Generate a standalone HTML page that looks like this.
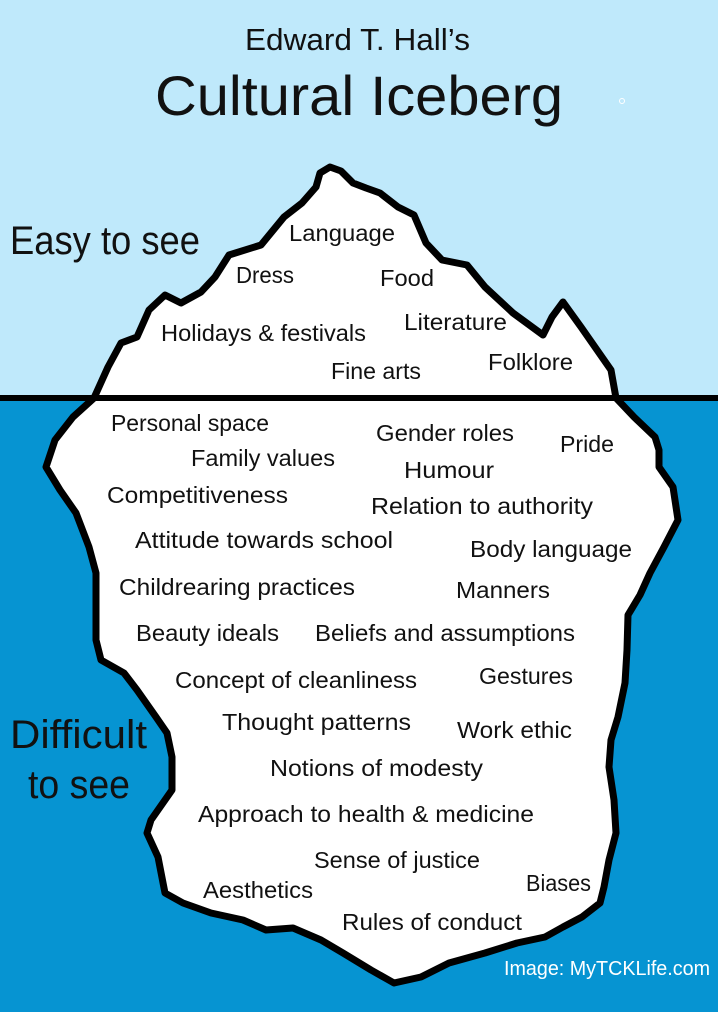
<!DOCTYPE html>
<html><head><meta charset="utf-8"><style>
html,body{margin:0;padding:0;background:#bfe9fb}
svg{display:block}
text{font-family:"Liberation Sans",sans-serif;fill:#111}
</style></head><body>
<svg width="718" height="1012" viewBox="0 0 718 1012" xmlns="http://www.w3.org/2000/svg">
<rect x="0" y="0" width="718" height="398" fill="#bfe9fb"/>
<rect x="0" y="398" width="718" height="614" fill="#0694d2"/>
<circle cx="622" cy="101" r="2.5" fill="none" stroke="#fff" stroke-width="1"/>
<path fill="#fff" stroke="#000" stroke-width="7" stroke-linejoin="round" stroke-linecap="round" d="
M320,173 L330,167 L341,171 L353,183 L366,188 L380,193 L398,207 L414,215 L426,243 L442,260 L467,265 L485,287 L513,313 L543,335 L552,317 L563,302 L581,327 L611,370 L616,398 L634,417 L655,437 L659,450 L659,467 L673,487 L678,520 L664,547 L650,573 L640,595 L628,615 L627,650 L625,683 L618,717 L611,740 L609,767 L614,800 L616,833 L609,860 L604,887 L600,903 L582,917 L563,927 L545,937 L517,943 L485,953 L449,963 L421,977 L394,983 L371,970 L343,953 L321,940 L293,928 L266,930 L243,920 L211,913 L183,903 L165,893 L158,857 L147,833 L151,820 L172,790 L172,757 L167,733 L156,717 L137,690 L124,673 L101,660 L96,640 L96,613 L96,573 L89,547 L76,513 L60,490 L46,467 L55,440 L73,417 L94,398 L108,367 L121,343 L137,337 L149,310 L165,295 L181,303 L201,292 L215,277 L229,255 L261,245 L284,217 L302,203 L316,187 Z"/>
<rect x="0" y="395" width="718" height="6" fill="#000"/>
<text x="245" y="50" font-size="31" textLength="225" lengthAdjust="spacingAndGlyphs">Edward T. Hall’s</text>
<text x="155" y="115" font-size="56" textLength="408" lengthAdjust="spacingAndGlyphs">Cultural Iceberg</text>
<text x="10" y="254" font-size="40" textLength="190" lengthAdjust="spacingAndGlyphs">Easy to see</text>
<text x="10" y="748" font-size="40" textLength="137" lengthAdjust="spacingAndGlyphs">Difficult</text>
<text x="28" y="798" font-size="40" textLength="102" lengthAdjust="spacingAndGlyphs">to see</text>
<g font-size="23">
<text x="289" y="241" textLength="106" lengthAdjust="spacingAndGlyphs">Language</text>
<text x="236" y="283" textLength="58" lengthAdjust="spacingAndGlyphs">Dress</text>
<text x="380" y="286" textLength="54" lengthAdjust="spacingAndGlyphs">Food</text>
<text x="161" y="341" textLength="205" lengthAdjust="spacingAndGlyphs">Holidays &amp; festivals</text>
<text x="404" y="330" textLength="103" lengthAdjust="spacingAndGlyphs">Literature</text>
<text x="331" y="379" textLength="90" lengthAdjust="spacingAndGlyphs">Fine arts</text>
<text x="488" y="370" textLength="85" lengthAdjust="spacingAndGlyphs">Folklore</text>
<text x="111" y="431" textLength="158" lengthAdjust="spacingAndGlyphs">Personal space</text>
<text x="376" y="441" textLength="138" lengthAdjust="spacingAndGlyphs">Gender roles</text>
<text x="560" y="452" textLength="54" lengthAdjust="spacingAndGlyphs">Pride</text>
<text x="191" y="466" textLength="144" lengthAdjust="spacingAndGlyphs">Family values</text>
<text x="404" y="478" textLength="90" lengthAdjust="spacingAndGlyphs">Humour</text>
<text x="107" y="503" textLength="181" lengthAdjust="spacingAndGlyphs">Competitiveness</text>
<text x="371" y="514" textLength="222" lengthAdjust="spacingAndGlyphs">Relation to authority</text>
<text x="135" y="548" textLength="258" lengthAdjust="spacingAndGlyphs">Attitude towards school</text>
<text x="470" y="557" textLength="162" lengthAdjust="spacingAndGlyphs">Body language</text>
<text x="119" y="595" textLength="236" lengthAdjust="spacingAndGlyphs">Childrearing practices</text>
<text x="456" y="598" textLength="94" lengthAdjust="spacingAndGlyphs">Manners</text>
<text x="136" y="641" textLength="143" lengthAdjust="spacingAndGlyphs">Beauty ideals</text>
<text x="315" y="641" textLength="260" lengthAdjust="spacingAndGlyphs">Beliefs and assumptions</text>
<text x="175" y="688" textLength="242" lengthAdjust="spacingAndGlyphs">Concept of cleanliness</text>
<text x="479" y="684" textLength="94" lengthAdjust="spacingAndGlyphs">Gestures</text>
<text x="222" y="730" textLength="189" lengthAdjust="spacingAndGlyphs">Thought patterns</text>
<text x="457" y="738" textLength="115" lengthAdjust="spacingAndGlyphs">Work ethic</text>
<text x="270" y="776" textLength="213" lengthAdjust="spacingAndGlyphs">Notions of modesty</text>
<text x="198" y="822" textLength="336" lengthAdjust="spacingAndGlyphs">Approach to health &amp; medicine</text>
<text x="314" y="868" textLength="166" lengthAdjust="spacingAndGlyphs">Sense of justice</text>
<text x="203" y="898" textLength="110" lengthAdjust="spacingAndGlyphs">Aesthetics</text>
<text x="526" y="891" textLength="65" lengthAdjust="spacingAndGlyphs">Biases</text>
<text x="342" y="930" textLength="180" lengthAdjust="spacingAndGlyphs">Rules of conduct</text>
</g>
<text x="504" y="975" font-size="20" style="fill:#fff" textLength="206" lengthAdjust="spacingAndGlyphs">Image: MyTCKLife.com</text>
</svg>
</body></html>
